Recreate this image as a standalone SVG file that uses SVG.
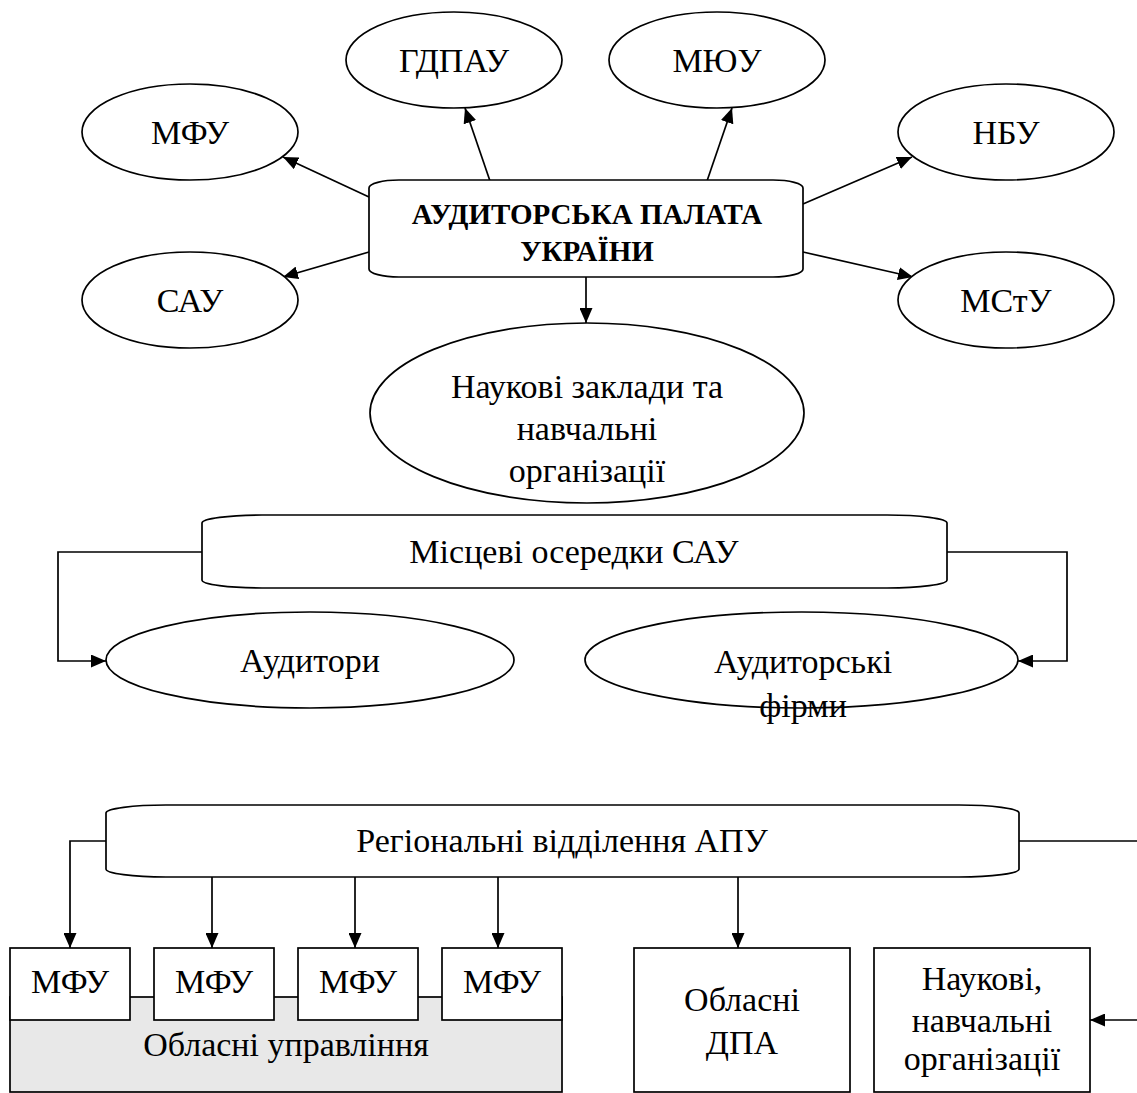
<svg xmlns="http://www.w3.org/2000/svg" width="1137" height="1093" viewBox="0 0 1137 1093">
<defs>
<style>
.s{fill:#fff;stroke:#000;stroke-width:1.7}
.g{fill:#e8e8e8;stroke:#000;stroke-width:1.7}
.t{font-family:'Liberation Serif','Times New Roman',serif;font-size:34px;fill:#000;text-anchor:middle}
.b{font-family:'Liberation Serif','Times New Roman',serif;font-size:29px;font-weight:bold;fill:#000;text-anchor:middle}
.c{fill:none;stroke:#000;stroke-width:1.7}
</style>
<marker id="ah" viewBox="0 0 15 13" refX="15" refY="6.5" markerWidth="15" markerHeight="13" markerUnits="userSpaceOnUse" orient="auto">
<path d="M0,0 L15,6.5 L0,13 z" fill="#000"/>
</marker>
</defs>
<rect width="1137" height="1093" fill="#fff"/>

<g id="connectors">
<line class="c" x1="369" y1="197" x2="283" y2="157" marker-end="url(#ah)"/>
<line class="c" x1="490" y1="181" x2="465" y2="108" marker-end="url(#ah)"/>
<line class="c" x1="369" y1="252" x2="283" y2="277" marker-end="url(#ah)"/>
<line class="c" x1="707" y1="181" x2="732" y2="108" marker-end="url(#ah)"/>
<line class="c" x1="803" y1="204" x2="912" y2="157" marker-end="url(#ah)"/>
<line class="c" x1="803" y1="252" x2="913" y2="277" marker-end="url(#ah)"/>
<line class="c" x1="586" y1="277" x2="586" y2="323" marker-end="url(#ah)"/>
<polyline class="c" points="202,552 58,552 58,661 106,661" marker-end="url(#ah)"/>
<polyline class="c" points="947,552 1067,552 1067,661 1018,661" marker-end="url(#ah)"/>
<polyline class="c" points="106,841 70,841 70,948" marker-end="url(#ah)"/>
<line class="c" x1="212" y1="877" x2="212" y2="948" marker-end="url(#ah)"/>
<line class="c" x1="355" y1="877" x2="355" y2="948" marker-end="url(#ah)"/>
<line class="c" x1="498" y1="877" x2="498" y2="948" marker-end="url(#ah)"/>
<line class="c" x1="738" y1="877" x2="738" y2="948" marker-end="url(#ah)"/>
<line class="c" x1="1019" y1="841" x2="1137" y2="841"/>
<line class="c" x1="1137" y1="1020" x2="1090" y2="1020" marker-end="url(#ah)"/>
</g>

<g id="apu">
<rect class="s" x="369" y="180" width="434" height="97" rx="30" ry="8"/>
<text class="b" x="587" y="224">АУДИТОРСЬКА ПАЛАТА</text>
<text class="b" x="587" y="261">УКРАЇНИ</text>
</g>
<g id="mfu">
<ellipse class="s" cx="190" cy="132" rx="108" ry="48"/>
<text class="t" x="190" y="144">МФУ</text>
</g>
<g id="gdpau">
<ellipse class="s" cx="454" cy="60" rx="108" ry="48"/>
<text class="t" x="454" y="72">ГДПАУ</text>
</g>
<g id="myu">
<ellipse class="s" cx="717" cy="60" rx="108" ry="48"/>
<text class="t" x="717" y="72">МЮУ</text>
</g>
<g id="nbu">
<ellipse class="s" cx="1006" cy="132" rx="108" ry="48"/>
<text class="t" x="1006" y="144">НБУ</text>
</g>
<g id="sau">
<ellipse class="s" cx="190" cy="300" rx="108" ry="48"/>
<text class="t" x="190" y="312">САУ</text>
</g>
<g id="mstu">
<ellipse class="s" cx="1006" cy="300" rx="108" ry="48"/>
<text class="t" x="1006" y="312">МСтУ</text>
</g>
<g id="naukovi">
<ellipse class="s" cx="587" cy="413" rx="217" ry="90"/>
<text class="t" x="587" y="398">Наукові заклади та</text>
<text class="t" x="587" y="440">навчальні</text>
<text class="t" x="587" y="482">організації</text>
</g>
<g id="osered">
<rect class="s" x="202" y="515" width="745" height="73" rx="60" ry="8"/>
<text class="t" x="574" y="563">Місцеві осередки САУ</text>
</g>
<g id="auditory">
<ellipse class="s" cx="310" cy="660" rx="204" ry="48"/>
<text class="t" x="310" y="672">Аудитори</text>
</g>
<g id="firms">
<ellipse class="s" cx="801.5" cy="660" rx="216.5" ry="48"/>
<text class="t" x="803" y="673">Аудиторські</text>
<text class="t" x="803" y="717">фірми</text>
</g>
<g id="regional">
<rect class="s" x="106" y="805" width="913" height="72" rx="60" ry="8"/>
<text class="t" x="562" y="852">Регіональні відділення АПУ</text>
</g>
<g id="oblupr">
<rect class="g" x="10" y="997" width="552" height="95"/>
<text class="t" x="286" y="1056">Обласні управління</text>
</g>
<g id="mfu1">
<rect class="s" x="10" y="948" width="120" height="72"/>
<text class="t" x="70" y="993">МФУ</text>
</g>
<g id="mfu2">
<rect class="s" x="154" y="948" width="120" height="72"/>
<text class="t" x="214" y="993">МФУ</text>
</g>
<g id="mfu3">
<rect class="s" x="298" y="948" width="120" height="72"/>
<text class="t" x="358" y="993">МФУ</text>
</g>
<g id="mfu4">
<rect class="s" x="442" y="948" width="120" height="72"/>
<text class="t" x="502" y="993">МФУ</text>
</g>
<g id="dpa">
<rect class="s" x="634" y="948" width="216" height="144"/>
<text class="t" x="742" y="1011">Обласні</text>
<text class="t" x="742" y="1054">ДПА</text>
</g>
<g id="naukovi2">
<rect class="s" x="874" y="948" width="216" height="144"/>
<text class="t" x="982" y="990">Наукові,</text>
<text class="t" x="982" y="1032">навчальні</text>
<text class="t" x="982" y="1070">організації</text>
</g>
</svg>
